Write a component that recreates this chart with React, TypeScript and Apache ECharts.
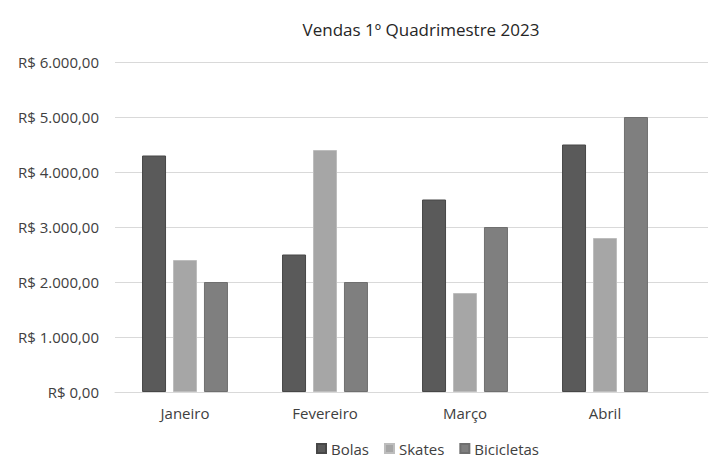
import React from 'react';
import * as echarts from 'echarts';

const months = ['Janeiro', 'Fevereiro', 'Março', 'Abril'];
const bolas = [4300, 2500, 3500, 4500];
const skates = [2400, 4400, 1800, 2800];
const bicicletas = [2000, 2000, 3000, 5000];
const yTickLabels = [
  'R$ 0,00',
  'R$ 1.000,00',
  'R$ 2.000,00',
  'R$ 3.000,00',
  'R$ 4.000,00',
  'R$ 5.000,00',
  'R$ 6.000,00',
];

const FONT = '"Open Sans", "Liberation Sans", sans-serif';
const TEXT = '#404040';

const seriesDefs = [
  { name: 'Bolas', data: bolas, color: '#5a5a5a', border: '#474747' },
  { name: 'Skates', data: skates, color: '#a6a6a6', border: '#bdbdbd' },
  { name: 'Bicicletas', data: bicicletas, color: '#7f7f7f', border: '#6f6f6f' },
];

const buildOption = (): echarts.EChartsOption => ({
  animation: false,
  backgroundColor: '#ffffff',
  title: {
    text: 'Vendas 1º Quadrimestre 2023',
    left: 416,
    top: 16,
    textAlign: 'center',
    textStyle: { fontFamily: FONT, fontSize: 17, fontWeight: 'normal', color: '#262626' },
  },
  legend: {
    bottom: 5,
    left: 311,
    itemWidth: 9,
    itemHeight: 9,
    itemGap: 15,
    icon: 'rect',
    textStyle: { fontFamily: FONT, fontSize: 15, color: TEXT },
    data: seriesDefs.map((s) => s.name),
  },
  grid: [
    { left: 115, width: 560, top: 62, height: 330, containLabel: false },
    { left: 115, width: 593, top: 62, height: 330, containLabel: false },
  ],
  xAxis: [
    {
      type: 'category',
      gridIndex: 0,
      data: months,
      axisLine: { show: false },
      axisTick: { show: false },
      axisLabel: { fontFamily: FONT, fontSize: 15, color: TEXT, margin: 13 },
    },
    {
      type: 'category',
      gridIndex: 1,
      data: [''],
      axisLine: { show: true, lineStyle: { color: '#d9d9d9', width: 1 } },
      axisTick: { show: false },
      axisLabel: { show: false },
    },
  ],
  yAxis: [
    {
      type: 'value',
      gridIndex: 0,
      min: 0,
      max: 6000,
      interval: 1000,
      axisLine: { show: false },
      axisTick: { show: false },
      axisLabel: { show: false },
      splitLine: { show: false },
    },
    {
      type: 'value',
      gridIndex: 1,
      min: 0,
      max: 6000,
      interval: 1000,
      axisLine: { show: false },
      axisTick: { show: false },
      axisLabel: {
        fontFamily: FONT,
        fontSize: 15,
        color: TEXT,
        margin: 16,
        formatter: (v: number) => yTickLabels[Math.round(v / 1000)] ?? '',
      },
      splitLine: { show: true, lineStyle: { color: '#d9d9d9', width: 1 } },
    },
  ],
  series: seriesDefs.map((s) => ({
    type: 'bar',
    name: s.name,
    xAxisIndex: 0,
    yAxisIndex: 0,
    data: s.data,
    barWidth: 24,
    barGap: '29%',
    itemStyle: { color: s.color, borderColor: s.border, borderWidth: 1 },
    emphasis: { disabled: true },
  })) as echarts.BarSeriesOption[],
});

export default function App() {
  const ref = React.useRef<HTMLDivElement>(null);

  React.useEffect(() => {
    if (!ref.current) return;
    const chart = echarts.init(ref.current, undefined, { renderer: 'svg' });
    chart.setOption(buildOption());
    return () => {
      chart.dispose();
    };
  }, []);

  return <div ref={ref} style={{ width: 716, height: 466, position: 'absolute', left: 0, top: 0 }} />;
}
